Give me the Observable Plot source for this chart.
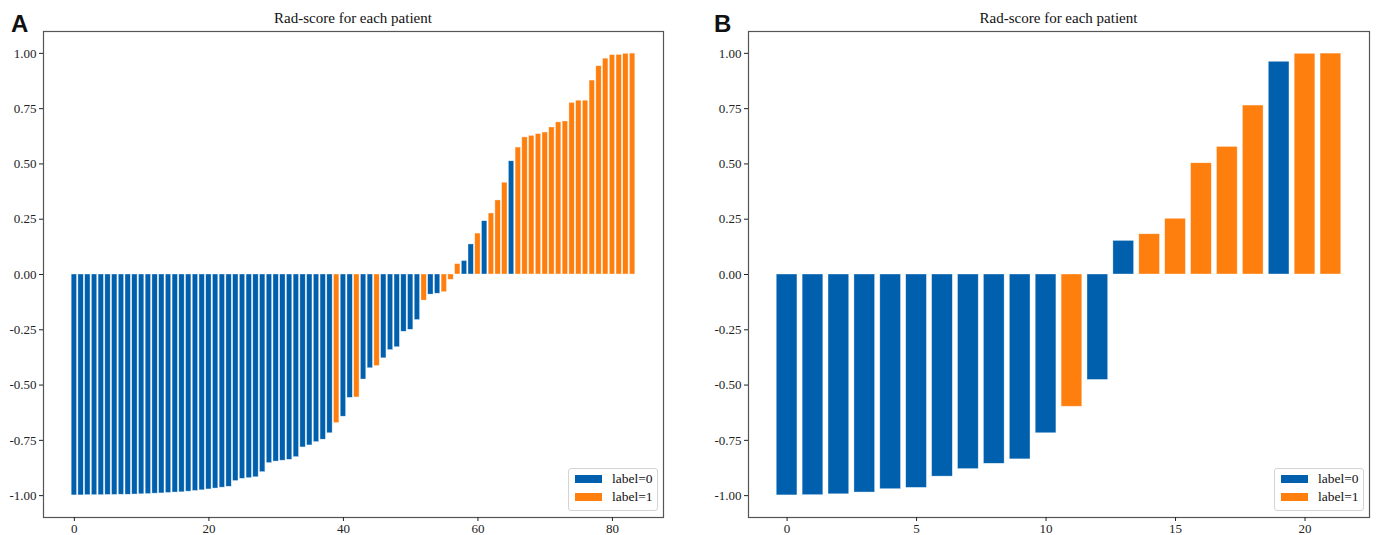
<!DOCTYPE html>
<html><head><meta charset="utf-8">
<script src="https://cdn.jsdelivr.net/npm/d3@7"></script>
<script src="https://cdn.jsdelivr.net/npm/@observablehq/plot@0.6"></script>
<style>
body{margin:0;background:#fff;}
#wrap{position:relative;width:1377px;height:535px;overflow:hidden;font-family:"Liberation Serif","Times New Roman",serif;color:#111;}
.panel{position:absolute;top:0;}
.letter{position:absolute;font-family:"Liberation Sans",Arial,sans-serif;font-weight:bold;font-size:24px;line-height:1;top:12px;}
.title{position:absolute;font-size:15px;line-height:1;top:11px;width:400px;text-align:center;}
.legend{position:absolute;top:468px;width:88px;height:41px;border:1px solid #d4d4d4;border-radius:3px;background:rgba(255,255,255,0.85);}
.sw{position:absolute;left:6px;width:27px;height:8px;}
.lt{position:absolute;left:43px;font-size:13.5px;line-height:1;}
</style></head><body><div id="wrap"></div>
<script>
// Panel A data (sorted Rad-scores, 84 patients)
const scoresA = [-0.999,-0.999,-0.998,-0.998,-0.998,-0.997,-0.997,-0.996,-0.996,-0.995,
  -0.994,-0.993,-0.991,-0.990,-0.988,-0.986,-0.985,-0.982,-0.979,-0.976,
  -0.972,-0.968,-0.964,-0.960,-0.934,-0.924,-0.921,-0.917,-0.894,-0.853,
  -0.846,-0.842,-0.838,-0.826,-0.782,-0.773,-0.758,-0.747,-0.718,-0.672,
  -0.643,-0.558,-0.556,-0.475,-0.424,-0.414,-0.379,-0.342,-0.329,-0.259,
  -0.250,-0.206,-0.118,-0.091,-0.087,-0.080,-0.024,0.047,0.061,0.136,
  0.185,0.241,0.276,0.335,0.415,0.512,0.574,0.620,0.627,0.635,
  0.642,0.665,0.688,0.692,0.776,0.786,0.786,0.877,0.942,0.976,
  0.992,0.993,0.998,0.999];
const labelsA = [0,0,0,0,0,0,0,0,0,0,
  0,0,0,0,0,0,0,0,0,0,
  0,0,0,0,0,0,0,0,0,0,
  0,0,0,0,0,0,0,0,0,1,
  0,0,1,0,0,1,0,0,0,0,
  0,0,1,0,0,1,1,1,0,0,
  1,0,1,1,1,0,1,1,1,1,
  1,1,1,1,1,1,1,1,1,1,
  1,1,1,1];
// Panel B data (22 patients)
const scoresB = [-0.999,-0.998,-0.994,-0.986,-0.971,-0.965,-0.914,-0.880,-0.856,-0.836,
  -0.718,-0.598,-0.477,0.152,0.182,0.252,0.503,0.577,0.764,0.962,0.998,0.999];
const labelsB = [0,0,0,0,0,0,0,0,0,0,0,1,0,0,1,1,1,1,1,0,1,1];

const yTicks = [-1,-0.75,-0.5,-0.25,0,0.25,0.5,0.75,1];
const xTicksA = [0,20,40,60,80];
const xTicksB = [0,5,10,15,20];
const legendLabels = ["label=0","label=1"];
const colors = ["#0060ad","#ff7f0e"];
const titleText = "Rad-score for each patient";
const letters = ["A","B"];

const wrap = document.getElementById("wrap");

function makePanel({scores, labels, xTicks, left, width, marginLeft, marginRight, letter, letterX, legendX}) {
  const data = scores.map((v, i) => ({i, v, label: legendLabels[labels[i]]}));
  const n = scores.length;
  const x0 = -0.4, x1 = n - 1 + 0.4, xm = 0.05 * (x1 - x0);
  const y0 = Math.min(0, d3.min(scores)), y1 = Math.max(0, d3.max(scores)), ym = 0.05 * (y1 - y0);
  const chart = Plot.plot({
    width, height: 535,
    marginTop: 31, marginBottom: 18, marginLeft, marginRight,
    style: {fontFamily: '"Liberation Serif","Times New Roman",serif', fontSize: "13px", color: "#222", background: "transparent"},
    x: {domain: [x0 - xm, x1 + xm]},
    y: {domain: [y0 - ym, y1 + ym]},
    color: {domain: legendLabels, range: colors},
    marks: [
      Plot.rect(data, {x1: d => d.i - 0.4, x2: d => d.i + 0.4, y1: 0, y2: "v", fill: "label",
        stroke: "white", strokeWidth: 0.6, strokeOpacity: 0.6}),
      Plot.frame({stroke: "#555", strokeWidth: 1.2}),
      Plot.axisX({ticks: xTicks, tickFormat: d => String(d), tickSize: 4, tickPadding: 2, label: null}),
      Plot.axisY({ticks: yTicks, tickFormat: d => d.toFixed(2), tickSize: 4, tickPadding: 3, label: null})
    ]
  });
  const holder = document.createElement("div");
  holder.className = "panel";
  holder.style.left = left + "px";
  holder.appendChild(chart);
  wrap.appendChild(holder);

  const t = document.createElement("div");
  t.className = "title";
  t.textContent = titleText;
  t.style.left = (left + marginLeft + (width - marginLeft - marginRight) / 2 - 200) + "px";
  wrap.appendChild(t);

  const l = document.createElement("div");
  l.className = "letter";
  l.textContent = letter;
  l.style.left = letterX + "px";
  wrap.appendChild(l);

  const lg = document.createElement("div");
  lg.className = "legend";
  lg.style.left = legendX + "px";
  legendLabels.forEach((name, k) => {
    const sw = document.createElement("div");
    sw.className = "sw";
    sw.style.top = (6 + 18 * k) + "px";
    sw.style.background = colors[k];
    lg.appendChild(sw);
    const tx = document.createElement("div");
    tx.className = "lt";
    tx.style.top = (3 + 18 * k) + "px";
    tx.textContent = name;
    lg.appendChild(tx);
  });
  wrap.appendChild(lg);
}

makePanel({scores: scoresA, labels: labelsA, xTicks: xTicksA, left: 0, width: 690,
  marginLeft: 43, marginRight: 27, letter: letters[0], letterX: 11, legendX: 568});
makePanel({scores: scoresB, labels: labelsB, xTicks: xTicksB, left: 690, width: 687,
  marginLeft: 58, marginRight: 8, letter: letters[1], letterX: 714, legendX: 1274});
</script>
</body></html>
